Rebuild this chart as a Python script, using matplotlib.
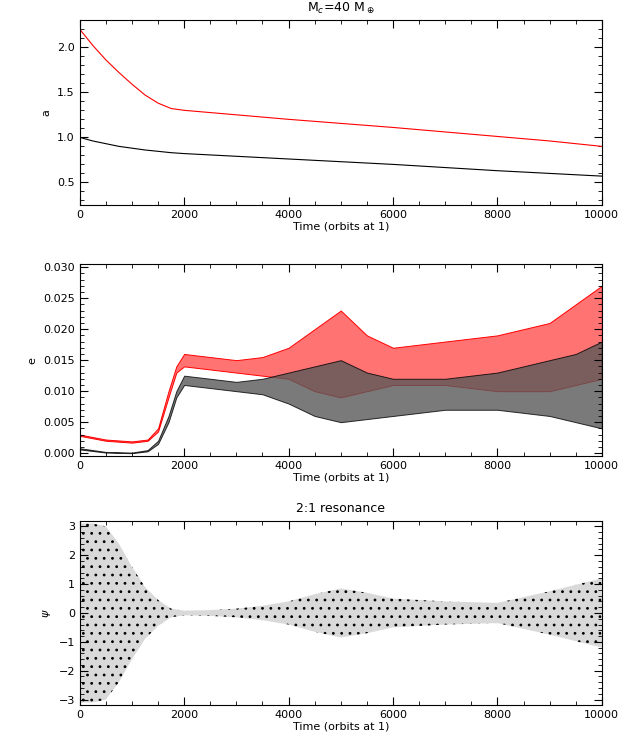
import matplotlib
matplotlib.use("Agg")
import matplotlib.pyplot as plt
from matplotlib.ticker import AutoMinorLocator

# semi-major axis
t_a = [0, 250, 500, 750, 1000, 1250, 1500, 1750, 2000, 3000, 4000, 5000, 6000, 7000, 8000, 9000, 10000]
a_red = [2.2, 2.02, 1.86, 1.72, 1.59, 1.47, 1.38, 1.32, 1.30, 1.25, 1.20, 1.155, 1.11, 1.06, 1.01, 0.96, 0.90]
a_black = [1.0, 0.96, 0.93, 0.90, 0.88, 0.86, 0.845, 0.83, 0.82, 0.79, 0.76, 0.73, 0.70, 0.665, 0.63, 0.60, 0.57]

# eccentricity envelopes
t_e = [0, 500, 1000, 1300, 1500, 1700, 1850, 2000, 2500, 3000, 3500, 4000, 4500, 5000, 5500, 6000, 7000, 8000, 9000, 9500, 10000]
e_red_hi = [0.003, 0.0022, 0.0019, 0.0022, 0.004, 0.010, 0.014, 0.016, 0.0155, 0.015, 0.0155, 0.017, 0.020, 0.023, 0.019, 0.017, 0.018, 0.019, 0.021, 0.024, 0.027]
e_red_lo = [0.0028, 0.0020, 0.0017, 0.0020, 0.0035, 0.009, 0.013, 0.014, 0.0135, 0.013, 0.0125, 0.012, 0.010, 0.009, 0.010, 0.011, 0.011, 0.010, 0.010, 0.011, 0.012]
e_blk_hi = [0.0008, 0.0002, 0.0001, 0.0005, 0.002, 0.006, 0.010, 0.0125, 0.012, 0.0115, 0.012, 0.013, 0.014, 0.015, 0.013, 0.012, 0.012, 0.013, 0.015, 0.016, 0.018]
e_blk_lo = [0.0006, 0.0001, 0.0000, 0.0003, 0.0015, 0.005, 0.009, 0.011, 0.0105, 0.010, 0.0095, 0.008, 0.006, 0.005, 0.0055, 0.006, 0.007, 0.007, 0.006, 0.005, 0.004]

# resonant angle envelope
t_p = [0, 250, 500, 750, 1000, 1250, 1500, 1750, 2000, 2500, 3000, 3500, 4000, 4500, 5000, 5500, 6000, 7000, 8000, 9000, 10000]
psi_amp = [3.1, 3.1, 3.0, 2.4, 1.6, 0.9, 0.45, 0.15, 0.08, 0.1, 0.15, 0.25, 0.4, 0.65, 0.85, 0.7, 0.5, 0.4, 0.35, 0.75, 1.2]

plt.rcParams['font.size'] = 8
plt.rcParams['hatch.color'] = 'black'
plt.rcParams['hatch.linewidth'] = 0.8
fig = plt.figure(figsize=(6.23, 7.48), dpi=100)
L, W = 0.128, 0.838
ax1 = fig.add_axes([L, 0.726, W, 0.247])
ax2 = fig.add_axes([L, 0.390, W, 0.257])
ax3 = fig.add_axes([L, 0.057, W, 0.247])

ax1.plot(t_a, a_red, color='red', lw=0.8)
ax1.plot(t_a, a_black, color='black', lw=0.8)
ax1.set_ylim(0.25, 2.3)
ax1.set_yticks([0.5, 1.0, 1.5, 2.0])
ax1.set_ylabel('a')
ax1.set_title(r'M$_c$=40 M$_\oplus$', fontsize=9)

ax2.fill_between(t_e, e_red_lo, e_red_hi, facecolor=(1, 0.45, 0.45), edgecolor='red', lw=0.7)
ax2.fill_between(t_e, e_blk_lo, e_blk_hi, facecolor=(0.35, 0.35, 0.35), edgecolor='black', lw=0.7, alpha=0.8)
ax2.set_ylim(-0.0005, 0.0305)
ax2.set_yticks([0, 0.005, 0.01, 0.015, 0.02, 0.025, 0.03])
ax2.set_yticklabels(['0.000', '0.005', '0.010', '0.015', '0.020', '0.025', '0.030'])
ax2.set_ylabel('e')

neg = [-v for v in psi_amp]
ax3.fill_between(t_p, neg, psi_amp, facecolor=(0.85, 0.85, 0.85), edgecolor='none')
ax3.fill_between(t_p, neg, psi_amp, facecolor='none', edgecolor='black', hatch='..', lw=0.0)
ax3.set_ylim(-3.2, 3.2)
ax3.set_yticks([-3, -2, -1, 0, 1, 2, 3])
ax3.set_ylabel(r'$\psi$')
ax3.set_title('2:1 resonance', fontsize=9)

for ax in (ax1, ax2, ax3):
    ax.set_xlim(0, 10000)
    ax.set_xticks([0, 2000, 4000, 6000, 8000, 10000])
    ax.set_xlabel('Time (orbits at 1)', labelpad=1)
    ax.xaxis.set_minor_locator(AutoMinorLocator(4))
    ax.yaxis.set_minor_locator(AutoMinorLocator(5))
    ax.tick_params(which='both', direction='in', top=True, right=True)
    ax.tick_params(which='major', length=6)
    ax.tick_params(which='minor', length=3)

fig.savefig('out.png', dpi=100)
